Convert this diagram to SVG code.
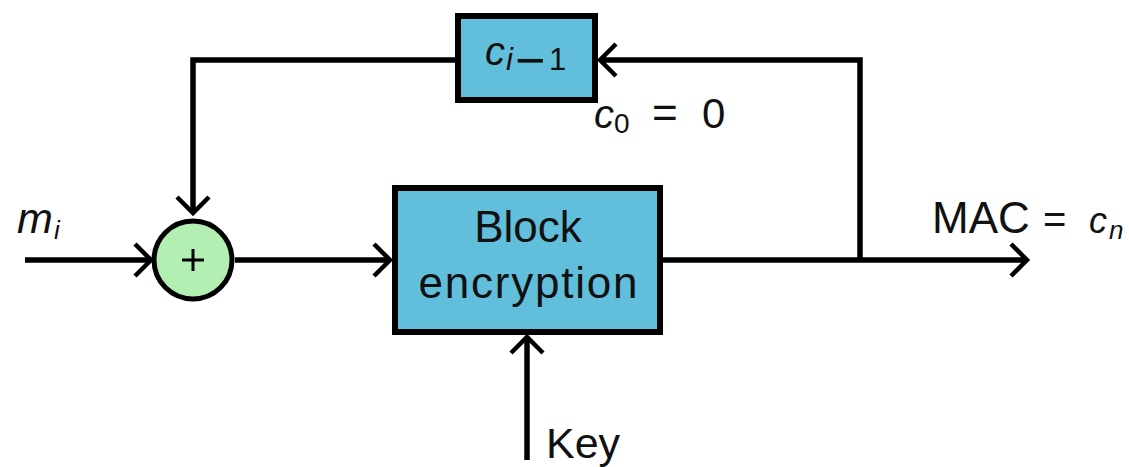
<svg xmlns="http://www.w3.org/2000/svg" width="1129" height="467" viewBox="0 0 1129 467">
  <defs>
    <marker id="arrow" markerUnits="userSpaceOnUse" markerWidth="40" markerHeight="40" refX="0" refY="0" viewBox="-20 -20 40 40" orient="auto" overflow="visible">
      <path d="M-16,-16 L0,0 L-16,16" fill="none" stroke="#000" stroke-width="4.5"/>
    </marker>
  </defs>
  <style>
    .wire { fill: none; stroke: #000; stroke-width: 5.5; }
    .box { fill: #62bfdb; stroke: #000; stroke-width: 6; }
    .sum { fill: #b3efb3; stroke: #000; stroke-width: 5; }
    .lbl { font-family: "Liberation Sans", Arial, sans-serif; fill: #111; }
    .math { font-family: "Liberation Sans", Arial, sans-serif; font-style: italic; fill: #111; }
  </style>

  <rect width="1129" height="467" fill="#fff"/>

  <!-- connectors -->
  <g id="connectors">
    <!-- message input into the adder -->
    <path class="wire" d="M25,260 H151" marker-end="url(#arrow)"/>
    <!-- adder to block cipher -->
    <path class="wire" d="M235,260 H390" marker-end="url(#arrow)"/>
    <!-- cipher output -->
    <path class="wire" d="M663,260 H860" stroke-width="6.5"/>
    <path class="wire" d="M860,260 H1027" marker-end="url(#arrow)"/>
    <!-- feedback to the register -->
    <path class="wire" d="M860,262 V60 H600" marker-end="url(#arrow)"/>
    <!-- register back to adder -->
    <path class="wire" d="M457,60 H193 V213" marker-end="url(#arrow)"/>
    <!-- key input -->
    <path class="wire" d="M527,460 V337" marker-end="url(#arrow)"/>
  </g>

  <!-- previous ciphertext register -->
  <g id="node-prev">
    <rect class="box" x="458" y="16" width="137" height="84"/>
    <text class="math" x="485" y="65" font-size="40">c</text>
    <text class="math" x="506" y="70" font-size="31">i</text>
    <text class="lbl" x="515" y="78" font-size="52">−</text>
    <text class="lbl" x="549" y="70" font-size="31">1</text>
  </g>

  <!-- initial value label -->
  <g id="node-init">
    <text class="math" x="594" y="128" font-size="40">c</text>
    <text class="lbl" x="614" y="133" font-size="28">0</text>
    <text class="lbl" x="652" y="128" font-size="44">=</text>
    <text class="lbl" x="702" y="128" font-size="42">0</text>
  </g>

  <!-- XOR adder -->
  <g id="node-xor">
    <circle class="sum" cx="193" cy="260" r="39"/>
    <path d="M182,260 H204 M193,249 V271" stroke="#000" stroke-width="3"/>
  </g>

  <!-- message block label -->
  <g id="node-msg">
    <text class="math" x="17" y="233" font-size="43">m</text>
    <text class="math" x="54" y="239" font-size="26">i</text>
  </g>

  <!-- block cipher -->
  <g id="node-cipher">
    <rect class="box" x="395" y="188" width="265" height="144"/>
    <text class="lbl" x="528" y="242" font-size="44" text-anchor="middle">Block</text>
    <text class="lbl" x="528" y="298" font-size="44" text-anchor="middle" textLength="219">encryption</text>
  </g>

  <!-- key label -->
  <g id="node-key">
    <text class="lbl" x="546" y="458" font-size="43">Key</text>
  </g>

  <!-- output label -->
  <g id="node-mac">
    <text class="lbl" x="932" y="233" font-size="44">MAC</text>
    <text class="lbl" x="1043" y="233" font-size="40">=</text>
    <text class="math" x="1089" y="233" font-size="36">c</text>
    <text class="math" x="1109" y="239" font-size="26">n</text>
  </g>
</svg>
